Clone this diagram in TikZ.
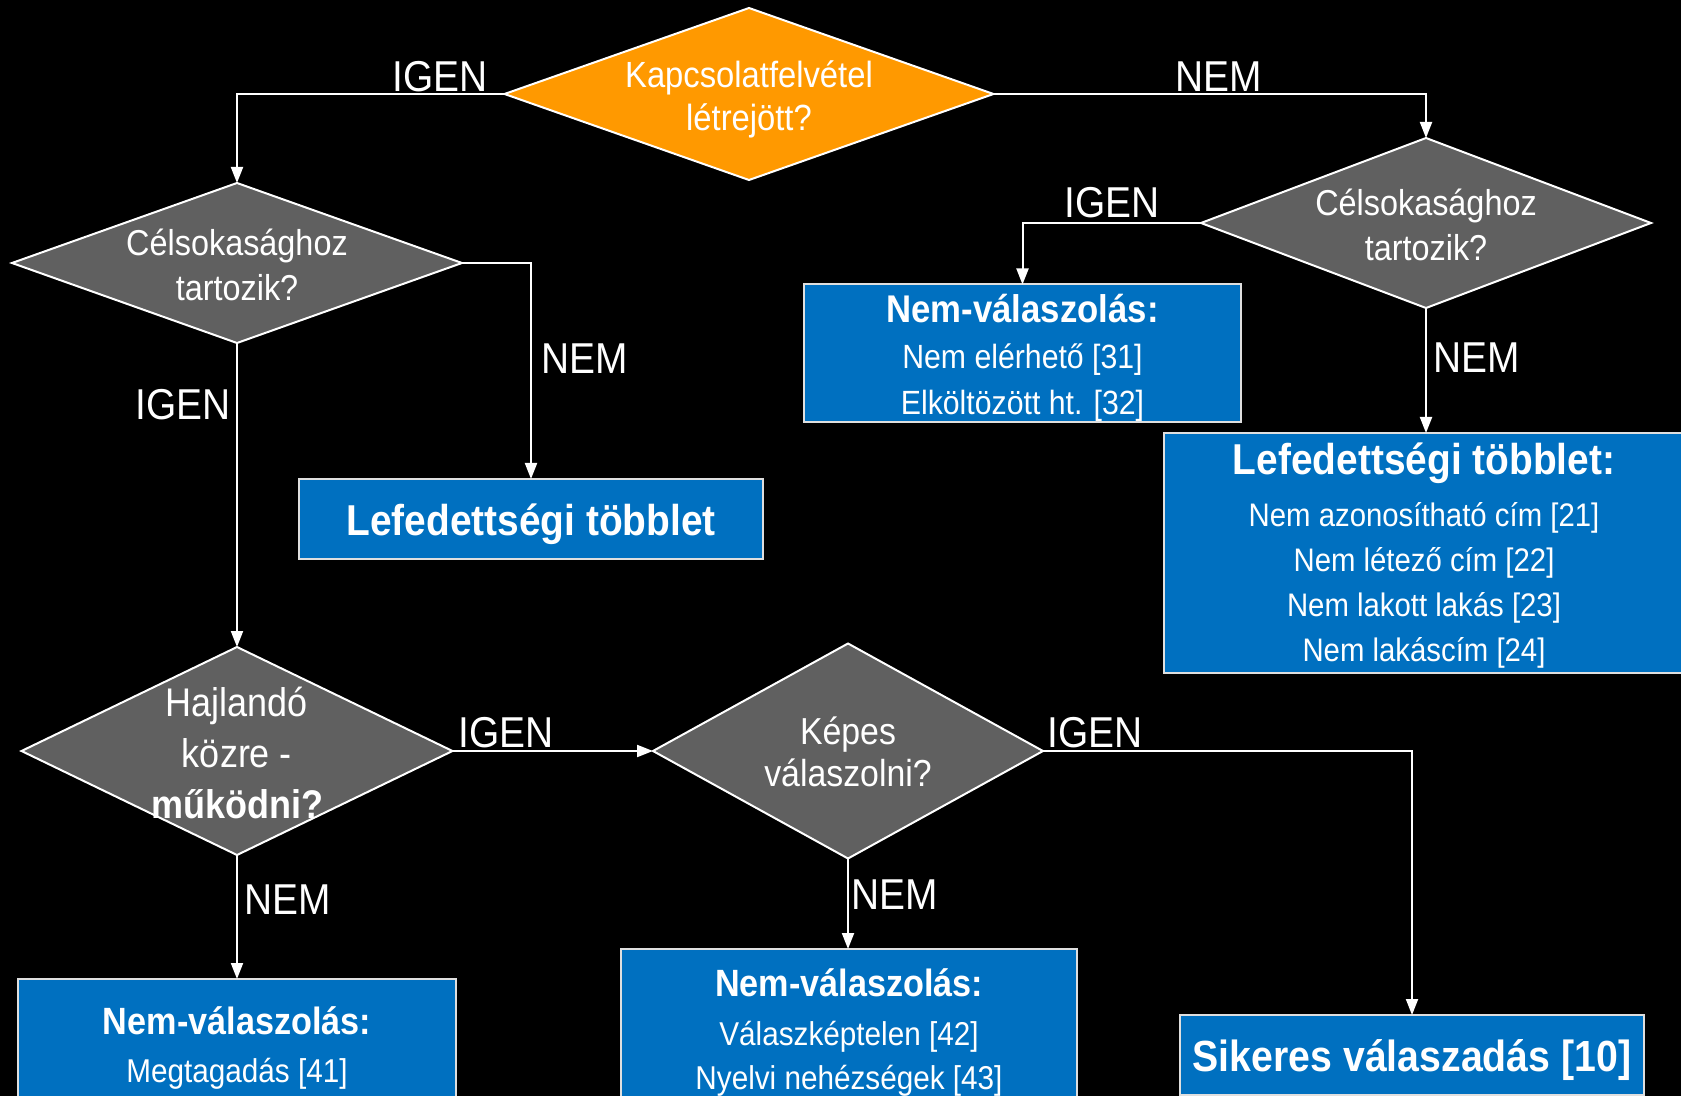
\documentclass[tikz,border=0pt]{standalone}
\usepackage{fontspec}
\setmainfont{Liberation Sans}[FakeStretch=0.9]
\usetikzlibrary{shapes.geometric,arrows.meta}
\definecolor{dorange}{HTML}{FF9900}
\definecolor{dgray}{HTML}{606060}
\definecolor{dblue}{HTML}{0070C0}
\newcommand\fsz[2]{\fontsize{#1}{#2}\selectfont}
\newcommand\dlines[1]{\makebox[0pt]{\raisebox{-3pt}[\height][\depth]{\begin{tabular}{@{}c@{}}#1\end{tabular}}}}
\tikzset{
  decision/.style={diamond,draw=white,line width=1pt,fill=dgray,text=white,inner sep=0pt,outer sep=0pt},
  outcome/.style={rectangle,draw=white!75!gray,line width=1pt,fill=dblue,text=white,inner sep=0pt,outer sep=0pt},
  answer/.style={text=white,inner sep=0pt,font=\fsz{21.6}{26}},
  flow/.style={draw=white,line width=1pt,-{Triangle[width=6pt,length=8pt]}}
}
\begin{document}
\begin{tikzpicture}[x=0.5pt,y=-0.5pt]
  \clip (0,0) rectangle (1681,1096);
  \fill[black] (0,0) rectangle (1681,1096);
  \node[decision,fill=dorange,minimum width=244.5pt,minimum height=86pt,font=\fsz{18.2}{21.5}]
    (contact) at (749,94) {\dlines{Kapcsolatfelvétel\\létrejött?}};
  \node[decision,minimum width=225pt,minimum height=80pt,font=\fsz{18}{22.5}]
    (targetL) at (237,263) {\dlines{Célsokasághoz\\tartozik?}};
  \node[decision,minimum width=225pt,minimum height=85pt,font=\fsz{18}{22.5}]
    (targetR) at (1426,223) {\dlines{Célsokasághoz\\tartozik?}};
  \node[decision,minimum width=215.5pt,minimum height=104pt,font=\fsz{20}{25.5}]
    (willing) at (237,751) {\dlines{Hajlandó\\közre -\\\textbf{működni?}}};
  \node[decision,minimum width=195pt,minimum height=107.5pt,font=\fsz{18.8}{21}]
    (able) at (848,751) {\dlines{Képes\\válaszolni?}};

  \node[outcome,minimum width=232pt,minimum height=40pt,font=\bfseries\fsz{21.6}{26}]
    (overL) at (531,519) {\dlines{Lefedettségi többlet}};
  \node[outcome,minimum width=218.5pt,minimum height=68.5pt,font=\fsz{16.8}{23}]
    (nonresA) at (1022.5,353.5) {\dlines{\bfseries\fsz{19.3}{23}Nem-válaszolás:\\Nem elérhető [31]\\Elköltözött ht. [32]}};
  \node[outcome,minimum width=260pt,minimum height=120pt,font=\fsz{16.3}{22.5}]
    (overR) at (1424,553) {\dlines{\bfseries\fsz{21.6}{26}Lefedettségi többlet:\\[3.5pt]Nem azonosítható cím [21]\\Nem létező cím [22]\\Nem lakott lakás [23]\\Nem lakáscím [24]}};
  \node[outcome,minimum width=219pt,minimum height=64pt,font=\fsz{16.5}{23}]
    (nonresB) at (237,1043) {\dlines{\bfseries\fsz{19}{23}Nem-válaszolás:\\[1pt]Megtagadás [41]}};
  \node[outcome,minimum width=228pt,minimum height=79pt,font=\fsz{16.5}{22}]
    (nonresC) at (849,1028) {\dlines{\bfseries\fsz{19}{22}Nem-válaszolás:\\[2.5pt]Válaszképtelen [42]\\Nyelvi nehézségek [43]}};
  \node[outcome,minimum width=232pt,minimum height=40pt,font=\bfseries\fsz{21.8}{26}]
    (success) at (1412,1055) {\dlines{Sikeres válaszadás [10]}};

  \node[answer,anchor=base] (yesTop) at (440,92) {IGEN};
  \node[answer,anchor=base] (noTop) at (1219,92) {NEM};
  \node[answer,anchor=base] (yesRight) at (1112,218) {IGEN};
  \node[answer,anchor=west] (noRight) at (1433,358) {NEM};
  \node[answer,anchor=west] (noLeft) at (541,359) {NEM};
  \node[answer,anchor=east] (yesLeft) at (231,405) {IGEN};
  \node[answer,anchor=base] (yesMid) at (506,747) {IGEN};
  \node[answer,anchor=base] (yesAble) at (1095,747) {IGEN};
  \node[answer,anchor=west] (noAble) at (851,895) {NEM};
  \node[answer,anchor=west] (noWilling) at (244,900) {NEM};

  \begin{scope}[flow]
    \draw (contact.west) -| (targetL.north);
    \draw (contact.east) -| (targetR.north);
    \draw (targetR.west) -| (nonresA.north);
    \draw (targetR.south) -- (targetR.south |- overR.north);
    \draw (targetL.east) -| (overL.north);
    \draw (targetL.south) -- (willing.north);
    \draw (willing.east) -- (able.west);
    \draw (willing.south) -- (nonresB.north);
    \draw (able.south) -- (able.south |- nonresC.north);
    \draw (able.east) -| (success.north);
  \end{scope}
\end{tikzpicture}
\end{document}
